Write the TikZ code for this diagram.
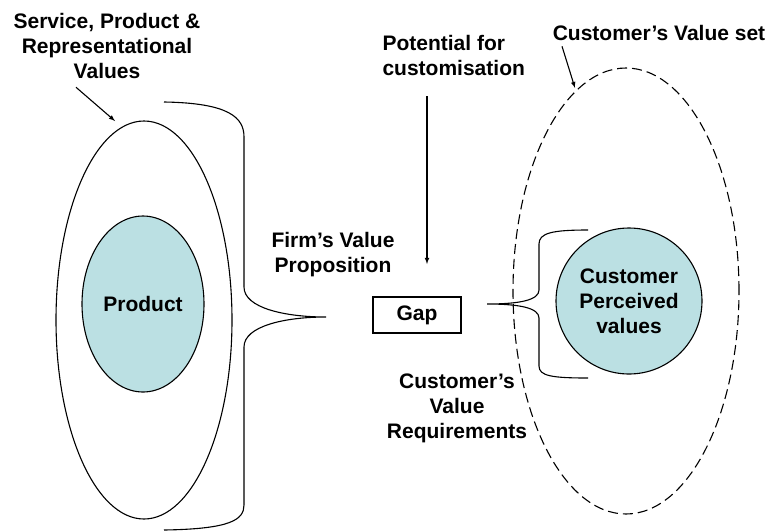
\documentclass[tikz,border=0pt]{standalone}
\usepackage{fontspec}
\setmainfont{Liberation Sans}
\usetikzlibrary{shapes.geometric, positioning}
\definecolor{tealfill}{RGB}{187,224,227}

\begin{document}
\begin{tikzpicture}[x=1pt, y=-1pt, line width=1.1pt,
    lbl/.style={font=\bfseries\fontsize{21}{25}\selectfont, align=center, inner sep=0pt},
    blob/.style={draw, fill=tealfill}]
  \useasboundingbox (0,0) rectangle (771,531);

  % firm side
  \node [ellipse, draw, minimum width=176pt, minimum height=398pt] (outer) at (144,320) {};
  \node [ellipse, blob, lbl, minimum width=122pt, minimum height=176pt] (prod) at (143,304) {Product};
  \draw (164,102) .. controls (230,103) and (244,118) .. (244,137) -- (244,287)
        .. controls (244,308) and (285,317) .. (326,317)
        .. controls (285,317) and (244,326) .. (244,347) -- (244,505)
        .. controls (244,520) and (230,529) .. (164,530);

  % customer side
  \node [ellipse, draw, dash pattern=on 10pt off 5pt, minimum width=226pt, minimum height=446pt] (vset) at (626,291) {};
  \node [circle, blob, lbl, minimum size=146pt] (cpv) at (629,301) {Customer\\Perceived\\values};
  \draw (588,230) .. controls (552,230) and (539,233) .. (539,244) -- (539,290)
        .. controls (539,300) and (520,304) .. (487,304)
        .. controls (520,304) and (539,308) .. (539,318) -- (539,366)
        .. controls (539,376) and (552,378) .. (588,378);

  \node [draw, lbl, minimum width=88pt, minimum height=36pt] (gap) at (417,315) {Gap};

  % labels
  \node [lbl] (spr) at (107,46) {Service, Product \&\\Representational\\Values};
  \node [lbl, align=left, anchor=west] (pot) at (382,55) {Potential for\\customisation};
  \node [lbl] (cvs) at (659,33) {Customer’s Value set};
  \node [lbl] (fvp) at (333,255) {Firm’s Value\\Proposition};
  \node [lbl] (cvr) at (457,408) {Customer’s\\Value\\Requirements};

  \coordinate (sprtip) at (115,121);
  \coordinate (pottop) at (427,96);
  \coordinate (pottip) at (427,264);
  \coordinate (cvstip) at (575,88);
  \draw [-latex] (spr.south -| 76,0) ++(0,8) -- (sprtip);
  \draw [-latex] (pottop) -- (pottip);
  \draw [-latex] (cvs.south -| 562,0) ++(0,5) -- (cvstip);
\end{tikzpicture}
\end{document}
